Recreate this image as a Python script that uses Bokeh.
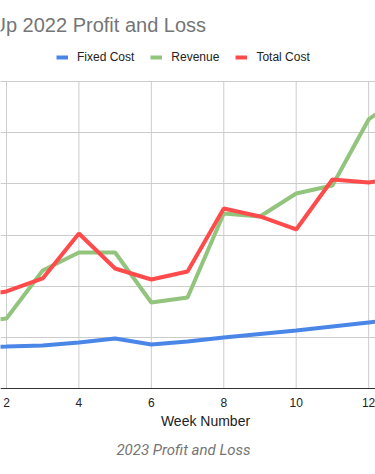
from bokeh.plotting import figure
from bokeh.models import Legend, LegendItem, Label, Grid, FixedTicker, Range1d, Span
from bokeh.core.properties import value
from bokeh.embed import file_html
from bokeh.resources import INLINE

weeks = [1, 2, 3, 4, 5, 6, 7, 8, 9, 10, 11, 12, 13]
fixed_cost = [405, 410, 420, 450, 489, 430, 459, 498, 533, 567, 606, 645, 684]
revenue = [645, 684, 1153, 1329, 1329, 840, 889, 1710, 1681, 1905, 1984, 2629, 2883]
total_cost = [889, 948, 1075, 1515, 1173, 1065, 1143, 1759, 1681, 1554, 2042, 2013, 2070]

x_ticks = [2, 4, 6, 8, 10, 12]
x_tick_labels = ["2", "4", "6", "8", "10", "12"]
y_grid = [500, 1000, 1500, 2000, 2500, 3000]
title_text = "Up 2022 Profit and Loss"
x_label = "Week Number"
caption = "2023 Profit and Loss"

W, H = 375, 474
plot_top, plot_bottom = 81, 388
y_max_val = 3000
scale = (plot_bottom - plot_top) / y_max_val
y_lo = -(H - plot_bottom) / scale
y_hi = y_max_val + plot_top / scale

p = figure(width=W, height=H, output_backend="svg", toolbar_location=None,
           x_range=Range1d(1.835, 12.19), y_range=Range1d(y_lo, y_hi),
           x_axis_location=None, y_axis_location=None,
           min_border=0)
p.outline_line_color = None
p.background_fill_color = "white"
p.border_fill_color = "white"
for g in list(p.xgrid) + list(p.ygrid):
    g.visible = False

p.add_layout(Grid(dimension=1, ticker=FixedTicker(ticks=y_grid),
                  grid_line_color="#cccccc", grid_line_width=1))
p.segment(x0=x_ticks, y0=[0] * len(x_ticks), x1=x_ticks, y1=[y_max_val] * len(x_ticks),
          line_color="#cccccc", line_width=1)
p.add_layout(Span(location=0, dimension="width", line_color="#333333", line_width=1))

p.text(x=x_ticks, y=[0] * len(x_ticks), text=x_tick_labels, y_offset=14,
       text_font=value("Arial"), text_font_size="12px", text_color="#222222",
       text_align="center", text_baseline="middle")

r1 = p.line(weeks, fixed_cost, line_color="#4a86e8", line_width=4)
r2 = p.line(weeks, revenue, line_color="#93c47d", line_width=4)
r3 = p.line(weeks, total_cost, line_color="#ff4b4b", line_width=4)

legend = Legend(items=[LegendItem(label="Fixed Cost", renderers=[r1]),
                       LegendItem(label="Revenue", renderers=[r2]),
                       LegendItem(label="Total Cost", renderers=[r3])],
                orientation="horizontal", location=(56, 408),
                glyph_width=12, glyph_height=18, label_height=18,
                label_standoff=9, spacing=16, padding=0, margin=0,
                border_line_color=None, background_fill_alpha=0,
                label_text_font="Arial", label_text_font_size="12px",
                label_text_color="#222222")
p.add_layout(legend, "center")

p.add_layout(Label(x=-9, y=H - 24, x_units="screen", y_units="screen", text=title_text,
                   text_font="Arial", text_font_size="20px", text_color="#757575",
                   text_baseline="middle", text_align="left"))
p.add_layout(Label(x=205, y=H - 420, x_units="screen", y_units="screen", text=x_label,
                   text_font="Arial", text_font_size="14px", text_color="#222222",
                   text_baseline="middle", text_align="center"))
p.add_layout(Label(x=183, y=H - 449, x_units="screen", y_units="screen", text=caption,
                   text_font="Roboto", text_font_size="15px", text_font_style="italic",
                   text_color="#757575", text_baseline="middle", text_align="center"))

open("out.html", "w").write(file_html(p, INLINE))
